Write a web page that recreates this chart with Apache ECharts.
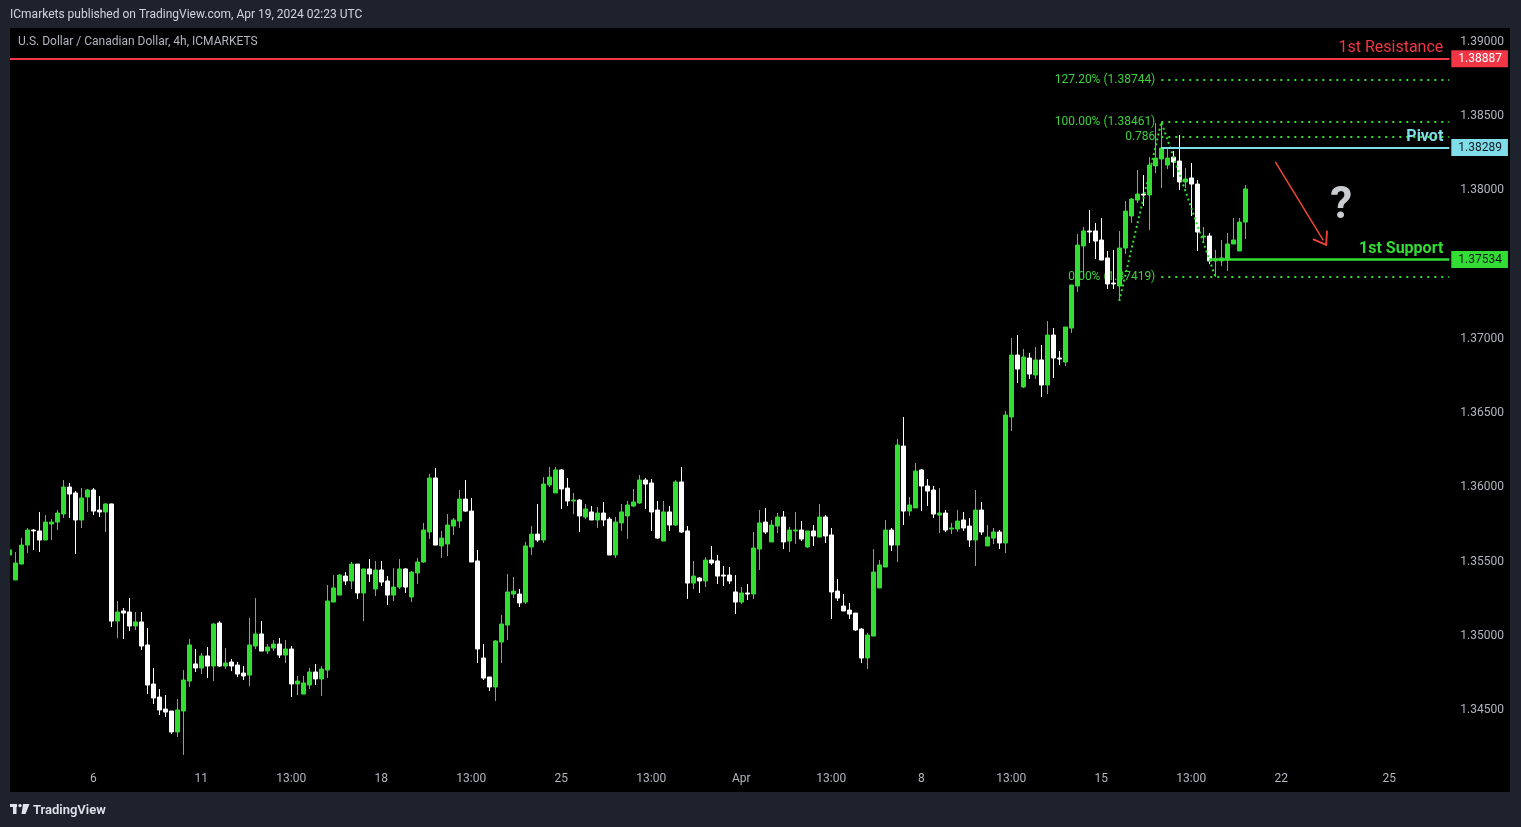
<!DOCTYPE html>
<html>
<head>
<meta charset="utf-8">
<script src="https://cdn.jsdelivr.net/npm/echarts/dist/echarts.min.js"></script>
<style>
html,body{margin:0;padding:0;background:#1e222d;}
#chart{width:1521px;height:827px;}
</style>
</head>
<body>
<div id="chart"></div>
<script>
// ---- DATA ----
// candles: [open, close, low, high]
const ohlc = [
[1.35544,1.35578,1.35530,1.35598],[1.35376,1.35490,1.35376,1.35564],[1.35483,1.35611,1.35483,1.35658],[1.35611,1.35712,1.35557,1.35726],
[1.35712,1.35706,1.35578,1.35719],[1.35706,1.35645,1.35564,1.35834],[1.35645,1.35766,1.35645,1.35813],[1.35753,1.35766,1.35645,1.35786],
[1.35766,1.35827,1.35712,1.35847],[1.35820,1.36002,1.35793,1.36049],[1.36002,1.35955,1.35793,1.36029],[1.35962,1.35780,1.35551,1.35975],
[1.35780,1.35928,1.35726,1.35995],[1.35935,1.35982,1.35834,1.35989],[1.35982,1.35840,1.35813,1.35995],[1.35847,1.35834,1.35800,1.35941],
[1.35834,1.35888,1.35699,1.35894],[1.35888,1.35099,1.35059,1.35890],[1.35099,1.35160,1.34985,1.35234],[1.35167,1.35153,1.34978,1.35187],
[1.35160,1.35066,1.35032,1.35254],[1.35066,1.35093,1.35039,1.35160],[1.35093,1.34931,1.34904,1.35160],[1.34938,1.34668,1.34607,1.35052],
[1.34675,1.34581,1.34540,1.34783],[1.34587,1.34500,1.34466,1.34641],[1.34506,1.34486,1.34453,1.34601],[1.34493,1.34352,1.34338,1.34493],
[1.34352,1.34500,1.34318,1.34574],[1.34493,1.34702,1.34197,1.34769],[1.34695,1.34938,1.34655,1.34978],[1.34810,1.34783,1.34756,1.34911],
[1.34783,1.34864,1.34742,1.34884],[1.34864,1.34796,1.34715,1.34924],[1.34796,1.35079,1.34695,1.35086],[1.35086,1.34796,1.34789,1.35099],
[1.34796,1.34816,1.34776,1.34917],[1.34823,1.34796,1.34762,1.34843],[1.34803,1.34742,1.34722,1.34823],[1.34749,1.34729,1.34702,1.34796],
[1.34735,1.34938,1.34661,1.35120],[1.34931,1.35012,1.34911,1.35254],[1.35012,1.34897,1.34897,1.35099],[1.34897,1.34924,1.34877,1.34944],
[1.34917,1.34944,1.34897,1.34971],[1.34944,1.34870,1.34850,1.34985],[1.34870,1.34911,1.34816,1.34971],[1.34911,1.34675,1.34587,1.34931],
[1.34675,1.34695,1.34601,1.34729],[1.34607,1.34682,1.34607,1.34729],[1.34668,1.34756,1.34641,1.34783],[1.34756,1.34709,1.34668,1.34810],
[1.34709,1.34776,1.34594,1.34796],[1.34769,1.35234,1.34715,1.35342],[1.35227,1.35322,1.35227,1.35409],[1.35274,1.35409,1.35274,1.35416],
[1.35402,1.35369,1.35342,1.35429],[1.35369,1.35483,1.35315,1.35497],[1.35483,1.35288,1.35248,1.35483],[1.35288,1.35450,1.35099,1.35450],
[1.35450,1.35416,1.35362,1.35517],[1.35315,1.35443,1.35268,1.35504],[1.35443,1.35362,1.35335,1.35504],[1.35369,1.35274,1.35207,1.35402],
[1.35274,1.35328,1.35234,1.35456],[1.35328,1.35450,1.35315,1.35517],[1.35450,1.35328,1.35288,1.35456],[1.35261,1.35429,1.35227,1.35436],
[1.35423,1.35497,1.35349,1.35524],[1.35497,1.35712,1.35490,1.35760],[1.35699,1.36063,1.35652,1.36090],[1.36063,1.35611,1.35611,1.36130],
[1.35605,1.35658,1.35524,1.35706],[1.35618,1.35746,1.35537,1.35820],[1.35739,1.35780,1.35679,1.35793],[1.35773,1.35921,1.35726,1.35982],
[1.35921,1.35840,1.35834,1.36049],[1.35840,1.35497,1.35497,1.35928],[1.35504,1.34911,1.34816,1.35578],[1.34850,1.34715,1.34702,1.34944],
[1.34722,1.34655,1.34628,1.34722],[1.34655,1.34965,1.34560,1.34971],[1.34958,1.35079,1.34816,1.35140],[1.35072,1.35295,1.34971,1.35416],
[1.35281,1.35301,1.35254,1.35396],[1.35281,1.35221,1.35194,1.35315],[1.35227,1.35605,1.35214,1.35632],[1.35598,1.35685,1.35544,1.35739],
[1.35685,1.35645,1.35632,1.35888],[1.35645,1.36022,1.35625,1.36069],[1.36016,1.36069,1.36002,1.36137],[1.35962,1.36117,1.35962,1.36137],
[1.36117,1.35989,1.35854,1.36123],[1.35995,1.35908,1.35874,1.36063],[1.35908,1.35914,1.35820,1.35962],[1.35914,1.35807,1.35699,1.35921],
[1.35800,1.35854,1.35786,1.35888],[1.35834,1.35780,1.35780,1.35874],[1.35780,1.35827,1.35726,1.35867],[1.35827,1.35780,1.35739,1.35901],
[1.35786,1.35544,1.35544,1.35800],[1.35544,1.35766,1.35524,1.35800],[1.35760,1.35834,1.35706,1.35888],[1.35807,1.35881,1.35652,1.35908],
[1.35874,1.35901,1.35867,1.35989],[1.35894,1.36049,1.35888,1.36083],[1.36049,1.36022,1.35854,1.36063],[1.36029,1.35834,1.35706,1.36056],
[1.35847,1.35658,1.35652,1.35908],[1.35638,1.35834,1.35638,1.35908],[1.35834,1.35746,1.35706,1.35874],[1.35746,1.36036,1.35739,1.36049],
[1.36036,1.35699,1.35692,1.36137],[1.35706,1.35355,1.35248,1.35739],[1.35355,1.35402,1.35315,1.35504],[1.35389,1.35369,1.35288,1.35396],
[1.35369,1.35510,1.35328,1.35530],[1.35510,1.35490,1.35477,1.35605],[1.35504,1.35402,1.35349,1.35544],[1.35409,1.35402,1.35335,1.35470],
[1.35409,1.35369,1.35349,1.35463],[1.35295,1.35227,1.35146,1.35409],[1.35227,1.35288,1.35214,1.35328],[1.35288,1.35281,1.35241,1.35349],
[1.35281,1.35591,1.35248,1.35699],[1.35584,1.35760,1.35443,1.35847],[1.35766,1.35699,1.35685,1.35861],[1.35632,1.35746,1.35632,1.35780],
[1.35739,1.35800,1.35692,1.35827],[1.35800,1.35632,1.35584,1.35840],[1.35638,1.35712,1.35564,1.35733],[1.35706,1.35712,1.35618,1.35834],
[1.35712,1.35652,1.35638,1.35773],[1.35598,1.35706,1.35591,1.35706],[1.35706,1.35672,1.35605,1.35746],[1.35665,1.35800,1.35665,1.35888],
[1.35800,1.35672,1.35625,1.35813],[1.35679,1.35295,1.35113,1.35726],[1.35301,1.35254,1.35234,1.35382],[1.35200,1.35167,1.35167,1.35281],
[1.35173,1.35146,1.35113,1.35221],[1.35153,1.35039,1.35032,1.35153],[1.35045,1.34850,1.34816,1.35052],[1.34850,1.35005,1.34776,1.35018],
[1.34998,1.35429,1.34998,1.35584],[1.35322,1.35477,1.35322,1.35510],[1.35463,1.35712,1.35463,1.35780],[1.35712,1.35611,1.35571,1.35726],
[1.35611,1.36285,1.35497,1.36325],[1.36278,1.35840,1.35746,1.36474],[1.35840,1.35881,1.35807,1.35935],[1.35861,1.36110,1.35861,1.36164],
[1.36117,1.36009,1.35840,1.36123],[1.36009,1.35975,1.35874,1.36056],[1.35982,1.35820,1.35793,1.36009],[1.35813,1.35827,1.35692,1.35995],
[1.35827,1.35712,1.35699,1.35847],[1.35719,1.35726,1.35685,1.35760],[1.35719,1.35773,1.35699,1.35847],[1.35780,1.35726,1.35706,1.35834],
[1.35739,1.35645,1.35598,1.35793],[1.35645,1.35847,1.35470,1.35982],[1.35847,1.35699,1.35679,1.35901],[1.35605,1.35665,1.35605,1.35746],
[1.35658,1.35699,1.35618,1.35726],[1.35699,1.35625,1.35584,1.35712],[1.35625,1.36487,1.35557,1.36514],[1.36474,1.36891,1.36379,1.37006],
[1.36891,1.36797,1.36703,1.37026],[1.36676,1.36878,1.36669,1.36932],[1.36871,1.36763,1.36730,1.36905],[1.36757,1.36858,1.36730,1.36945],
[1.36858,1.36689,1.36608,1.36959],[1.36689,1.37026,1.36629,1.37120],[1.37026,1.36871,1.36736,1.37073],[1.36871,1.36864,1.36824,1.36918],
[1.36844,1.37080,1.36817,1.37080],[1.37073,1.37363,1.37040,1.37363],[1.37356,1.37632,1.37316,1.37707],[1.37626,1.37727,1.37410,1.37754],
[1.37727,1.37720,1.37646,1.37868],[1.37727,1.37659,1.37538,1.37781],[1.37666,1.37531,1.37531,1.37814],[1.37545,1.37370,1.37336,1.37592],
[1.37376,1.37370,1.37336,1.37599],[1.37356,1.37612,1.37255,1.37727],[1.37612,1.37861,1.37572,1.37929],[1.37828,1.37942,1.37781,1.37949],
[1.37935,1.37976,1.37915,1.38138],[1.37976,1.37969,1.37895,1.38104],[1.37969,1.38171,1.37734,1.38225],[1.38165,1.38218,1.38117,1.38454],
[1.38212,1.38286,1.38016,1.38461],[1.38171,1.38218,1.38144,1.38286],[1.38225,1.38191,1.38090,1.38266],[1.38198,1.38057,1.38003,1.38373],
[1.38057,1.38077,1.38016,1.38151],[1.38084,1.38043,1.37828,1.38185],[1.38043,1.37720,1.37592,1.38070],[1.37686,1.37693,1.37646,1.37754],
[1.37693,1.37525,1.37504,1.37713],[1.37525,1.37538,1.37417,1.37599],[1.37525,1.37545,1.37491,1.37666],[1.37531,1.37639,1.37457,1.37713],
[1.37639,1.37666,1.37639,1.37814],[1.37592,1.37787,1.37592,1.37814],[1.37787,1.38010,1.37673,1.38037]
];

// time slots (4h bars) incl. empty future slots
const slotCount = 241;
const categories = Array.from({length: slotCount}, (_, i) => String(i));
const lastSlot = String(slotCount - 1);

// x tick labels (slot index -> text)
const xTickIndex = [14, 32, 47, 62, 77, 92, 107, 122, 137, 152, 167, 182, 197, 212, 230];
const xTickText  = ['6', '11', '13:00', '18', '13:00', '25', '13:00', 'Apr', '13:00', '8', '13:00', '15', '13:00', '22', '25'];

// price axis
const yMin = 1.34, yMax = 1.390876, yStep = 0.005;
const yLabelLow = 1.345, yLabelHigh = 1.39;

// horizontal levels
const resistanceLevel = 1.38887;
const pivotLevel = 1.38289;
const supportLevel = 1.37534;
const pivotFrom = '192';
const supportFrom = '200';

// fibonacci levels
const fibValues = [1.38744, 1.38461, 1.38362, 1.37419];
const fibTexts  = ['127.20% (1.38744)', '100.00% (1.38461)', '0.786', '0.00% (1.37419)'];
const fibFrom = '192';

// swing points for fib drawing
const swingSlots  = ['185', '192', '201'];
const swingValues = [1.37255, 1.38461, 1.37419];

// projection arrow and question mark
const arrowSlots  = ['211', '219'];
const arrowValues = [1.38192, 1.37664];
const questionSlot = '222';
const questionValue = 1.37922;

// ---- CHART ----
const FONT = 'Roboto, "Noto Sans", "DejaVu Sans", sans-serif';
const GREEN = '#33dd33', WHITE = '#ffffff', RED = '#f23645', CYAN = '#80deea';
const FIBTXT = '#3ecf3e', AXISTXT = '#b2b5be', PAGE = '#1e222d';
const NOLINE = {color: 'rgba(0,0,0,0)', width: 1, type: 'solid'};

const tickMap = new Map(xTickIndex.map((v, i) => [v, xTickText[i]]));

const chart = echarts.init(document.getElementById('chart'), null, {renderer: 'canvas', width: 1521, height: 827});

const chevron = 'path://M10,0 L20,13 L18.4,14.2 L10,3.2 L1.6,14.2 L0,13 Z';

const priceBox = (level, from, bg, fg) => [
  {coord: [from, level], lineStyle: NOLINE,
   label: {position: 'end', formatter: level.toFixed(5), color: fg, backgroundColor: bg, fontSize: 12,
           lineHeight: 12, padding: [4, 6, 1, 7], distance: 2}},
  {coord: [lastSlot, level]}
];

const option = {
  backgroundColor: PAGE,
  animation: false,
  textStyle: {fontFamily: FONT},
  title: [
    {text: 'ICmarkets published on TradingView.com, Apr 19, 2024 02:23 UTC', left: 10, top: 9, padding: 0,
     textStyle: {color: '#d1d4dc', fontSize: 12, fontWeight: 'normal', fontFamily: FONT}},
    {text: 'U.S. Dollar / Canadian Dollar, 4h, ICMARKETS', left: 18, top: 36, padding: 0,
     textStyle: {color: AXISTXT, fontSize: 12, fontWeight: 'normal', fontFamily: FONT}}
  ],
  grid: {left: 6.3, right: 68.7, top: 29, bottom: 42.8, containLabel: false, outerBoundsMode: 'none'},
  xAxis: {
    type: 'category', data: categories, boundaryGap: true,
    axisLine: {show: false}, axisTick: {show: false}, splitLine: {show: false},
    axisLabel: {
      interval: (idx) => tickMap.has(idx),
      formatter: (val, idx) => tickMap.get(idx) || '',
      color: AXISTXT, fontSize: 12, margin: -11, fontFamily: FONT
    }
  },
  yAxis: {
    type: 'value', position: 'right', min: yMin, max: yMax, interval: yStep,
    axisLine: {show: false}, axisTick: {show: false}, splitLine: {show: false},
    axisLabel: {
      color: AXISTXT, fontSize: 12, margin: 8, fontFamily: FONT, padding: [2, 0, 0, 0],
      formatter: (v) => {
        const r = Math.round(v / yStep) * yStep;
        if (Math.abs(v - r) > 1e-7 || r < yLabelLow - 1e-7 || r > yLabelHigh + 1e-7) return '';
        return r.toFixed(5);
      }
    }
  },
  graphic: [
    {type: 'rect', z: -1, silent: true, shape: {x: 10, y: 28, width: 1500, height: 764}, style: {fill: '#000000'}},
    {type: 'rect', z: 100, silent: true, shape: {x: 0, y: 28, width: 10, height: 764}, style: {fill: PAGE}},
    {type: 'rect', z: 100, silent: true, shape: {x: 10, y: 804, width: 7, height: 3}, style: {fill: '#e0e3eb'}},
    {type: 'rect', z: 100, silent: true, shape: {x: 13, y: 804, width: 3.5, height: 10}, style: {fill: '#e0e3eb'}},
    {type: 'circle', z: 100, silent: true, shape: {cx: 20, cy: 805.6, r: 1.7}, style: {fill: '#e0e3eb'}},
    {type: 'polygon', z: 100, silent: true, shape: {points: [[23, 804], [29.5, 804], [25.5, 814], [21.5, 814]]}, style: {fill: '#e0e3eb'}},
    {type: 'text', z: 100, silent: true, x: 33, y: 811,
     style: {text: 'TradingView', fill: '#e0e3eb', font: '600 13px ' + FONT, verticalAlign: 'middle'}}
  ],
  series: [
    {
      type: 'candlestick', name: 'USDCAD', data: ohlc, barWidth: 4, clip: false, z: 2,
      silent: true,
      itemStyle: {color: GREEN, color0: WHITE, borderColor: GREEN, borderColor0: WHITE, borderWidth: 1},
      markLine: {
        z: 1, silent: true, symbol: ['none', 'none'], animation: false,
        lineStyle: {color: GREEN, width: 2, type: [2, 5]},
        label: {show: true, position: 'start', distance: 6, color: FIBTXT, fontSize: 12, fontFamily: FONT, padding: [3, 0, 0, 0]},
        emphasis: {disabled: true},
        data: fibValues.map((v, i) => [
          {coord: [fibFrom, v], label: {formatter: fibTexts[i]}},
          {coord: [lastSlot, v]}
        ])
      }
    },
    {
      type: 'line', name: 'swing', data: swingSlots.map((s, i) => [s, swingValues[i]]),
      symbol: 'none', clip: false, z: 3, silent: true,
      lineStyle: {color: GREEN, width: 2, type: [2, 3]},
      emphasis: {disabled: true},
      markLine: {
        z: 5, silent: true, symbol: ['none', 'none'], animation: false,
        emphasis: {disabled: true},
        label: {show: true, fontFamily: FONT},
        data: [
          [{coord: ['0', resistanceLevel], lineStyle: {color: RED, width: 2, type: 'solid'},
            label: {position: 'insideEndTop', formatter: '1st Resistance', color: RED, fontSize: 16, distance: 3, padding: [0, 3, 0, 0]}},
           {coord: [lastSlot, resistanceLevel]}],
          priceBox(resistanceLevel, '0', RED, '#ffffff'),
          [{coord: [pivotFrom, pivotLevel], lineStyle: {color: CYAN, width: 2, type: 'solid'},
            label: {position: 'insideEndTop', formatter: 'Pivot', color: CYAN, fontSize: 16, fontWeight: 'bold', distance: 3, padding: [0, 3, 0, 0]}},
           {coord: [lastSlot, pivotLevel]}],
          priceBox(pivotLevel, pivotFrom, CYAN, '#131722'),
          [{coord: [supportFrom, supportLevel], lineStyle: {color: GREEN, width: 2.5, type: 'solid'},
            label: {position: 'insideEndTop', formatter: '1st Support', color: GREEN, fontSize: 16, fontWeight: 'bold', distance: 3, padding: [0, 3, 0, 0]}},
           {coord: [lastSlot, supportLevel]}],
          priceBox(supportLevel, supportFrom, GREEN, '#131722'),
          [{coord: [arrowSlots[0], arrowValues[0]], lineStyle: {color: '#f0453a', width: 1.5, type: 'solid'}, label: {show: false}},
           {coord: [arrowSlots[1], arrowValues[1]], symbol: chevron, symbolSize: [18, 14]}]
        ]
      },
      markPoint: {
        silent: true, symbol: 'circle', symbolSize: 1, animation: false,
        itemStyle: {color: 'rgba(0,0,0,0)'},
        label: {show: true, position: 'inside', formatter: '?', color: '#c9ccd1', fontSize: 44, fontWeight: 'bold', fontFamily: FONT, offset: [0, 5]},
        data: [{coord: [questionSlot, questionValue]}]
      }
    }
  ]
};

chart.setOption(option);
</script>
</body>
</html>
